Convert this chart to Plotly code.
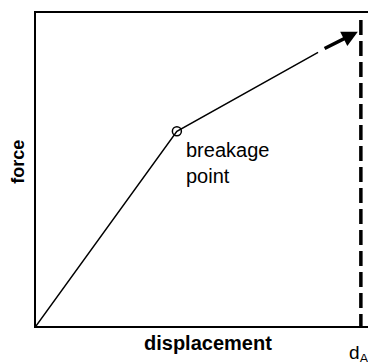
import plotly.graph_objects as go

# curve values (normalized units)
displacement = [0.0, 0.418, 0.837]
force = [0.0, 0.622, 0.874]
breakage_x = [0.418]
breakage_y = [0.622]
arrow_start = (0.852, 0.884)
arrow_tip = (0.955, 0.940)
d_A = 0.964

FONT = "Liberation Sans, Arial, Helvetica, sans-serif"

fig = go.Figure()
fig.add_trace(go.Scatter(x=displacement, y=force, mode="lines",
                         line=dict(color="black", width=1.5), hoverinfo="skip"))
fig.add_trace(go.Scatter(x=breakage_x, y=breakage_y, mode="markers",
                         marker=dict(symbol="circle-open", size=9, color="black",
                                     line=dict(width=1.5)), hoverinfo="skip"))

# dashed vertical line at d_A
fig.add_shape(type="line", x0=d_A, x1=d_A, xref="x", y0=0.978, y1=-0.067, yref="y",
              line=dict(color="black", width=3.5, dash="15px,6px"))

# arrow
fig.add_annotation(x=arrow_tip[0], y=arrow_tip[1], ax=arrow_start[0], ay=arrow_start[1],
                   xref="x", yref="y", axref="x", ayref="y", text="",
                   showarrow=True, arrowhead=2, arrowsize=0.9, arrowwidth=3.5,
                   arrowcolor="black")

fig.add_annotation(x=0.44, y=0.603, xref="x", yref="y", text="breakage<br>point",
                   showarrow=False, xanchor="left", yanchor="top", align="left",
                   font=dict(family=FONT, size=20, color="black"))
fig.add_annotation(x=0.51, y=-0.012, xref="paper", yref="paper", text="<b>displacement</b>",
                   showarrow=False, xanchor="center", yanchor="top",
                   font=dict(family=FONT, size=20, color="black"))
fig.add_annotation(x=-0.054, y=0.524, xref="paper", yref="paper", text="<b>force</b>",
                   showarrow=False, textangle=-90, xanchor="center", yanchor="middle",
                   font=dict(family=FONT, size=18, color="black"))
fig.add_annotation(x=0.924, y=-0.045, xref="x", yref="paper", text="d<sub>A</sub>",
                   showarrow=False, xanchor="left", yanchor="top",
                   font=dict(family=FONT, size=19, color="black"))

axis = dict(range=[0, 1], showgrid=False, zeroline=False, showticklabels=False,
            ticks="", showline=True, linecolor="black", linewidth=1.5, mirror=True,
            fixedrange=True)
# page body has an 8px margin, so the plot area is offset to land where the reference has it
fig.update_layout(width=376, height=362, margin=dict(l=28, r=11, t=3, b=44),
                  paper_bgcolor="white", plot_bgcolor="white", showlegend=False,
                  xaxis=axis, yaxis=axis)
fig.write_html("out.html", config={"displayModeBar": False})
